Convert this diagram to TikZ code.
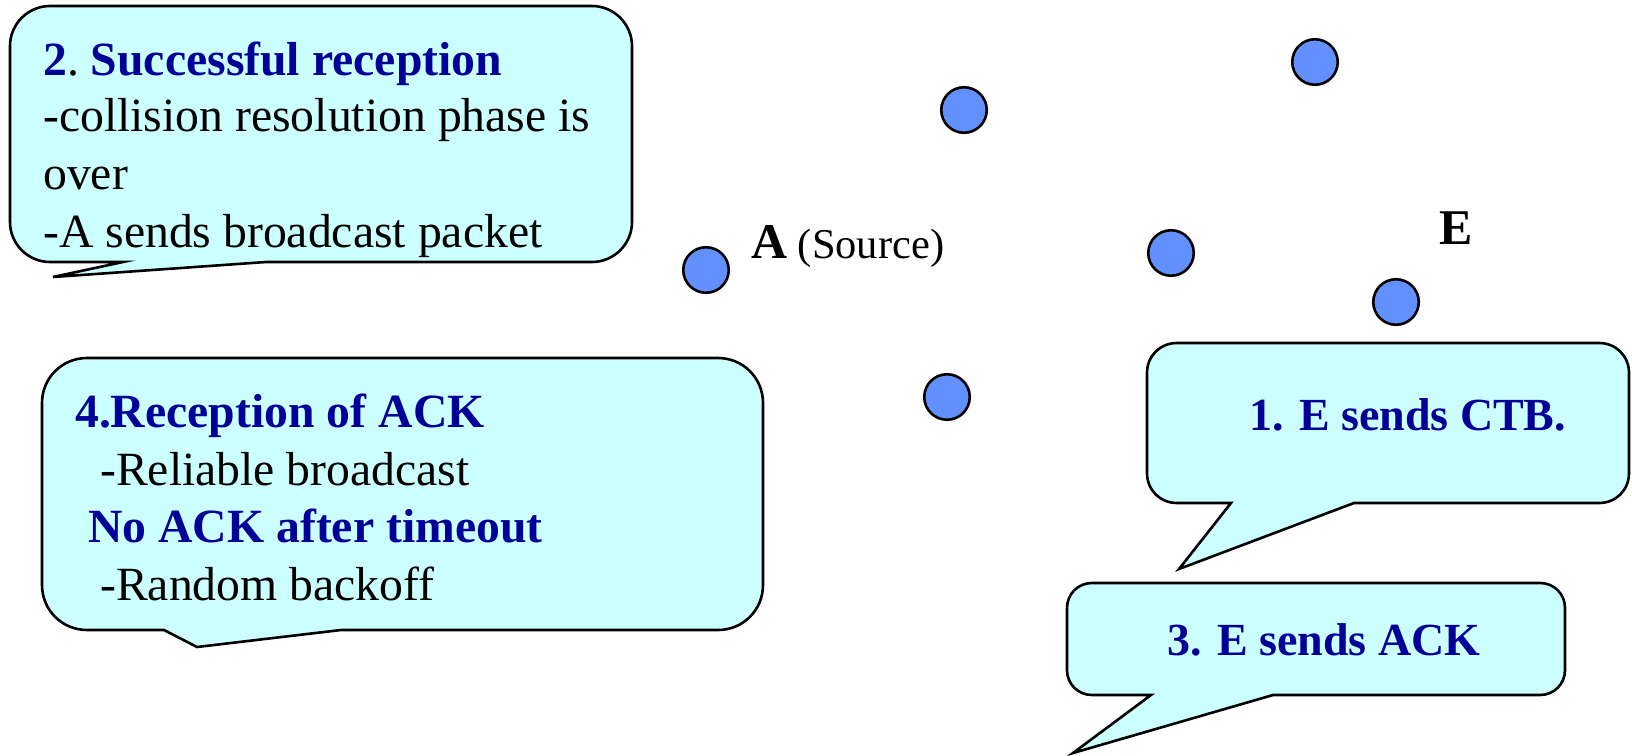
\documentclass[tikz,border=0pt]{standalone}
\usepackage{fontspec}
\setmainfont{Liberation Serif}
\definecolor{bubblefill}{RGB}{204,255,255}
\definecolor{hdblue}{RGB}{0,0,153}
\definecolor{dotfill}{RGB}{98,145,255}
\tikzset{
  bubble/.style={draw=black, fill=bubblefill, line width=2.6pt},
  dot/.style={circle, draw=black, fill=dotfill, line width=2.6pt, minimum size=45.5pt, inner sep=0pt},
  txt/.style={anchor=base west, inner sep=0pt, font=\fontsize{47.7}{57}\selectfont},
  hd/.style={anchor=base west, inner sep=0pt, text=hdblue, font=\fontsize{47.7}{57}\selectfont\bfseries},
  hdsmall/.style={anchor=base west, inner sep=0pt, text=hdblue, font=\fontsize{46}{55}\selectfont\bfseries},
  lbl/.style={anchor=base west, inner sep=0pt, font=\fontsize{50}{60}\selectfont\bfseries},
}
\begin{document}
\begin{tikzpicture}[x=1pt,y=-1pt]
\useasboundingbox[fill=white] (0,0) rectangle (1632,755);

% callout 2 (top left)
\draw[bubble] (53,277) -- (266,262) -- (592,262) .. controls (614,262) and (632,244) .. (632,222)
  -- (632,46) .. controls (632,24) and (614,6) .. (592,6)
  -- (50,6) .. controls (28,6) and (10,24) .. (10,46)
  -- (10,222) .. controls (10,244) and (28,262) .. (50,262) -- (123,262) -- cycle;
\node[txt] (c2a) at (43,75) {\textcolor{hdblue}{\bfseries 2}.\ \textcolor{hdblue}{\bfseries Successful reception}};
\node[txt] (c2b) at (43,131) {-collision resolution phase is};
\node[txt] (c2c) at (43,189) {over};
\node[txt] (c2d) at (43,247) {-A sends broadcast packet};

% callout 4 (bottom left)
\draw[bubble] (197,647) -- (341,630) -- (718,630) .. controls (743,630) and (763,610) .. (763,585)
  -- (763,403) .. controls (763,378) and (743,358) .. (718,358)
  -- (87,358) .. controls (62,358) and (42,378) .. (42,403)
  -- (42,585) .. controls (42,610) and (62,630) .. (87,630) -- (164,630) -- cycle;
\node[hd] (c4a) at (75,427) {4.Reception of ACK};
\node[txt] (c4b) at (100,485) {-Reliable broadcast};
\node[hd] (c4c) at (88,542) {No ACK after timeout};
\node[txt] (c4d) at (100,600) {-Random backoff};

% callout 1 (right)
\draw[bubble] (1179,569) -- (1231,503) -- (1177,503) .. controls (1160,503) and (1147,490) .. (1147,473)
  -- (1147,373) .. controls (1147,356) and (1160,343) .. (1177,343)
  -- (1599,343) .. controls (1616,343) and (1629,356) .. (1629,373)
  -- (1629,473) .. controls (1629,490) and (1616,503) .. (1599,503) -- (1354,503) -- cycle;
\node[hdsmall] (c1) at (1249,430) {1. E sends CTB.};

% callout 3 (bottom right)
\draw[bubble] (1073,753) -- (1273,695) -- (1540,695) .. controls (1554,695) and (1565,684) .. (1565,670)
  -- (1565,608) .. controls (1565,594) and (1554,583) .. (1540,583)
  -- (1092,583) .. controls (1078,583) and (1067,594) .. (1067,608)
  -- (1067,670) .. controls (1067,684) and (1078,695) .. (1092,695) -- (1151,695) -- cycle;
\node[hdsmall] (c3) at (1167,655) {3. E sends ACK};

% nodes
\node[dot] (na) at (706,270) {};
\node[dot] (n1) at (964,110) {};
\node[dot] (n2) at (1315,62) {};
\node[dot] (n3) at (1171,253) {};
\node[dot] (ne) at (1396,302) {};
\node[dot] (n4) at (947,397) {};

\node[lbl] (alabel) at (751,258) {A\fontsize{42.5}{50}\selectfont\mdseries\ (Source)};
\node[lbl] (elabel) at (1439,244) {E};
\end{tikzpicture}
\end{document}
